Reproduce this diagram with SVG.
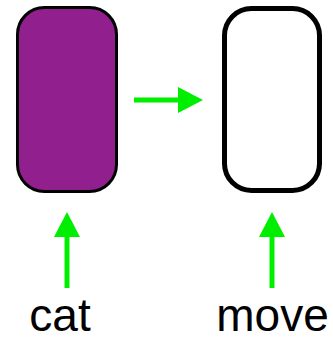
<svg xmlns="http://www.w3.org/2000/svg" width="333" height="338" viewBox="0 0 333 338">
  <style>
    .box { stroke: #000; }
    .link { stroke: #00ee00; stroke-width: 5; fill: none; }
    .label { font-family: "Liberation Sans", Arial, sans-serif; font-size: 46px; fill: #000; text-anchor: middle; }
  </style>
  <defs>
    <marker id="head" markerUnits="userSpaceOnUse" markerWidth="26" markerHeight="26" refX="0" refY="13" orient="auto" viewBox="0 0 26 26">
      <path d="M0,0 L25,13 L0,26 Z" fill="#00ee00"/>
    </marker>
  </defs>
  <rect width="333" height="338" fill="#fff"/>
  <g id="cat-node">
    <rect class="box" x="17.5" y="7.5" width="99" height="184" rx="27" fill="#921f8e" stroke-width="3"/>
  </g>
  <g id="move-node">
    <rect class="box" x="224.5" y="8.5" width="95" height="182" rx="27" fill="#fff" stroke-width="5"/>
  </g>
  <g id="connectors">
    <line class="link" x1="134" y1="100" x2="178" y2="100" marker-end="url(#head)"/>
    <line class="link" x1="67" y1="288" x2="67" y2="237" marker-end="url(#head)"/>
    <line class="link" x1="272" y1="288" x2="272" y2="237" marker-end="url(#head)"/>
  </g>
  <g id="labels">
    <text class="label" x="60" y="331">cat</text>
    <text class="label" x="272.5" y="331">move</text>
  </g>
</svg>
